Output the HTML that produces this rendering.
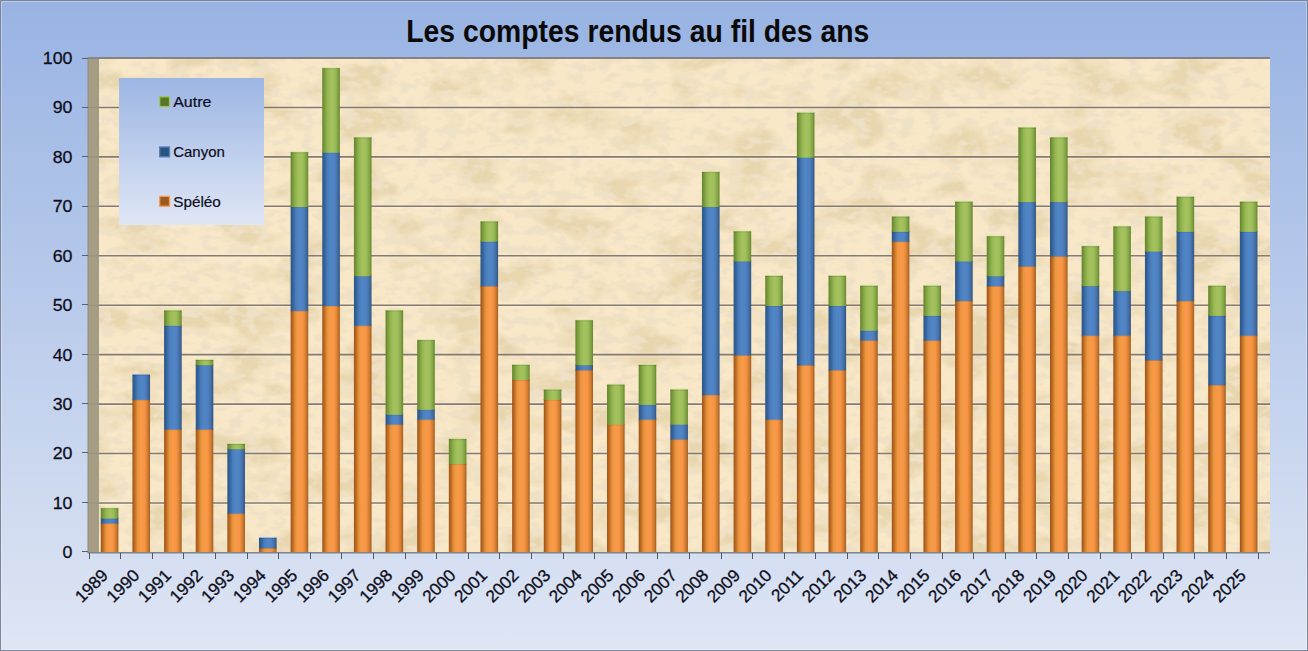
<!DOCTYPE html>
<html><head><meta charset="utf-8"><title>Les comptes rendus au fil des ans</title>
<style>
html,body{margin:0;padding:0;width:1308px;height:651px;overflow:hidden;background:#fff}
svg{display:block}
text{font-family:"Liberation Sans",sans-serif}
</style></head><body>
<svg width="1308" height="651" viewBox="0 0 1308 651">
<defs>
<linearGradient id="bg" x1="0" y1="0" x2="0" y2="1">
<stop offset="0" stop-color="#98b3e3"/><stop offset="1" stop-color="#dfe6f4"/>
</linearGradient>
<linearGradient id="lg" x1="0" y1="0" x2="0" y2="1">
<stop offset="0" stop-color="#9cb6e4"/><stop offset="1" stop-color="#dfe6f5"/>
</linearGradient>
<linearGradient id="gO" x1="0" y1="0" x2="1" y2="0">
<stop offset="0" stop-color="#9a521c"/><stop offset="0.1" stop-color="#b8651f"/><stop offset="0.3" stop-color="#e9953e"/>
<stop offset="0.5" stop-color="#fa9a48"/><stop offset="0.7" stop-color="#f59545"/><stop offset="0.88" stop-color="#d07a2e"/><stop offset="1" stop-color="#a05c22"/>
</linearGradient>
<linearGradient id="gB" x1="0" y1="0" x2="1" y2="0">
<stop offset="0" stop-color="#2a5585"/><stop offset="0.12" stop-color="#32629a"/><stop offset="0.3" stop-color="#4b7cbc"/>
<stop offset="0.5" stop-color="#4f88c4"/><stop offset="0.7" stop-color="#5280c6"/><stop offset="0.88" stop-color="#40709f"/><stop offset="1" stop-color="#324f88"/>
</linearGradient>
<linearGradient id="gG" x1="0" y1="0" x2="1" y2="0">
<stop offset="0" stop-color="#62802c"/><stop offset="0.12" stop-color="#789a3a"/><stop offset="0.3" stop-color="#94b752"/>
<stop offset="0.5" stop-color="#a6c25e"/><stop offset="0.7" stop-color="#9fbf5c"/><stop offset="0.88" stop-color="#82a545"/><stop offset="1" stop-color="#68852c"/>
</linearGradient>
<filter id="p1" x="0" y="0" width="100%" height="100%">
<feTurbulence type="fractalNoise" baseFrequency="0.018 0.03" numOctaves="5" seed="3"/>
<feColorMatrix type="matrix" values="0 0 0 0 0.81  0 0 0 0 0.67  0 0 0 0 0.43  4.6 0 0 0 -2.2"/>
</filter>
<filter id="p2" x="0" y="0" width="100%" height="100%">
<feTurbulence type="fractalNoise" baseFrequency="0.07 0.11" numOctaves="3" seed="11"/>
<feColorMatrix type="matrix" values="0 0 0 0 0.86  0 0 0 0 0.75  0 0 0 0 0.56  4.6 0 0 0 -2.2"/>
</filter>
</defs>
<rect x="0.5" y="0.5" width="1307" height="650" fill="url(#bg)" stroke="#7d8696" stroke-width="1"/>
<rect x="1.5" y="1.5" width="1305" height="648" fill="none" stroke="#ffffff" stroke-opacity="0.3" stroke-width="1"/>

<rect x="99" y="58" width="1171" height="494.5" fill="#f8e8c8"/>
<rect x="99" y="58" width="1171" height="494.5" filter="url(#p1)"/>
<rect x="99" y="58" width="1171" height="494.5" filter="url(#p2)"/>
<rect x="87.6" y="58" width="11.2" height="494.5" fill="#a69e84"/>
<rect x="87.6" y="58" width="1.2" height="494.5" fill="#8f8b82" opacity="0.7"/>
<rect x="97.8" y="58" width="1.0" height="494.5" fill="#8f8670" opacity="0.35"/>
<line x1="98.8" y1="504.46" x2="1270" y2="504.46" stroke="#fff6dc" stroke-width="1" opacity="0.45"/>
<line x1="98.8" y1="501.46" x2="1270" y2="501.46" stroke="#fff6dc" stroke-width="1" opacity="0.3"/>
<line x1="98.8" y1="502.96" x2="1270" y2="502.96" stroke="#857b74" stroke-width="1.6"/>
<line x1="87.6" y1="502.96" x2="98.8" y2="502.96" stroke="#857d76" stroke-width="1.2" opacity="0.35"/>
<line x1="98.8" y1="455.02" x2="1270" y2="455.02" stroke="#fff6dc" stroke-width="1" opacity="0.45"/>
<line x1="98.8" y1="452.02" x2="1270" y2="452.02" stroke="#fff6dc" stroke-width="1" opacity="0.3"/>
<line x1="98.8" y1="453.52" x2="1270" y2="453.52" stroke="#857b74" stroke-width="1.6"/>
<line x1="87.6" y1="453.52" x2="98.8" y2="453.52" stroke="#857d76" stroke-width="1.2" opacity="0.35"/>
<line x1="98.8" y1="405.58" x2="1270" y2="405.58" stroke="#fff6dc" stroke-width="1" opacity="0.45"/>
<line x1="98.8" y1="402.58" x2="1270" y2="402.58" stroke="#fff6dc" stroke-width="1" opacity="0.3"/>
<line x1="98.8" y1="404.08" x2="1270" y2="404.08" stroke="#857b74" stroke-width="1.6"/>
<line x1="87.6" y1="404.08" x2="98.8" y2="404.08" stroke="#857d76" stroke-width="1.2" opacity="0.35"/>
<line x1="98.8" y1="356.14" x2="1270" y2="356.14" stroke="#fff6dc" stroke-width="1" opacity="0.45"/>
<line x1="98.8" y1="353.14" x2="1270" y2="353.14" stroke="#fff6dc" stroke-width="1" opacity="0.3"/>
<line x1="98.8" y1="354.64" x2="1270" y2="354.64" stroke="#857b74" stroke-width="1.6"/>
<line x1="87.6" y1="354.64" x2="98.8" y2="354.64" stroke="#857d76" stroke-width="1.2" opacity="0.35"/>
<line x1="98.8" y1="306.70" x2="1270" y2="306.70" stroke="#fff6dc" stroke-width="1" opacity="0.45"/>
<line x1="98.8" y1="303.70" x2="1270" y2="303.70" stroke="#fff6dc" stroke-width="1" opacity="0.3"/>
<line x1="98.8" y1="305.20" x2="1270" y2="305.20" stroke="#857b74" stroke-width="1.6"/>
<line x1="87.6" y1="305.20" x2="98.8" y2="305.20" stroke="#857d76" stroke-width="1.2" opacity="0.35"/>
<line x1="98.8" y1="257.26" x2="1270" y2="257.26" stroke="#fff6dc" stroke-width="1" opacity="0.45"/>
<line x1="98.8" y1="254.26" x2="1270" y2="254.26" stroke="#fff6dc" stroke-width="1" opacity="0.3"/>
<line x1="98.8" y1="255.76" x2="1270" y2="255.76" stroke="#857b74" stroke-width="1.6"/>
<line x1="87.6" y1="255.76" x2="98.8" y2="255.76" stroke="#857d76" stroke-width="1.2" opacity="0.35"/>
<line x1="98.8" y1="207.82" x2="1270" y2="207.82" stroke="#fff6dc" stroke-width="1" opacity="0.45"/>
<line x1="98.8" y1="204.82" x2="1270" y2="204.82" stroke="#fff6dc" stroke-width="1" opacity="0.3"/>
<line x1="98.8" y1="206.32" x2="1270" y2="206.32" stroke="#857b74" stroke-width="1.6"/>
<line x1="87.6" y1="206.32" x2="98.8" y2="206.32" stroke="#857d76" stroke-width="1.2" opacity="0.35"/>
<line x1="98.8" y1="158.38" x2="1270" y2="158.38" stroke="#fff6dc" stroke-width="1" opacity="0.45"/>
<line x1="98.8" y1="155.38" x2="1270" y2="155.38" stroke="#fff6dc" stroke-width="1" opacity="0.3"/>
<line x1="98.8" y1="156.88" x2="1270" y2="156.88" stroke="#857b74" stroke-width="1.6"/>
<line x1="87.6" y1="156.88" x2="98.8" y2="156.88" stroke="#857d76" stroke-width="1.2" opacity="0.35"/>
<line x1="98.8" y1="108.94" x2="1270" y2="108.94" stroke="#fff6dc" stroke-width="1" opacity="0.45"/>
<line x1="98.8" y1="105.94" x2="1270" y2="105.94" stroke="#fff6dc" stroke-width="1" opacity="0.3"/>
<line x1="98.8" y1="107.44" x2="1270" y2="107.44" stroke="#857b74" stroke-width="1.6"/>
<line x1="87.6" y1="107.44" x2="98.8" y2="107.44" stroke="#857d76" stroke-width="1.2" opacity="0.35"/>
<line x1="98.8" y1="58.00" x2="1270" y2="58.00" stroke="#857b74" stroke-width="1.6"/>
<line x1="87.6" y1="58.00" x2="98.8" y2="58.00" stroke="#857d76" stroke-width="1.2" opacity="0.35"/>
<line x1="87.6" y1="58.00" x2="1270" y2="58.00" stroke="#7f7f82" stroke-width="1.6"/>
<line x1="82" y1="551.5" x2="88" y2="551.5" stroke="#55607a" stroke-width="1"/>
<text x="72.5" y="558.30" font-size="16.6" text-anchor="end" fill="#0d0d1a" stroke="#0d0d1a" stroke-width="0.25" transform="translate(72.5 0) scale(1.07 1) translate(-72.5 0)">0</text>
<line x1="82" y1="502.5" x2="88" y2="502.5" stroke="#55607a" stroke-width="1"/>
<text x="72.5" y="508.86" font-size="16.6" text-anchor="end" fill="#0d0d1a" stroke="#0d0d1a" stroke-width="0.25" transform="translate(72.5 0) scale(1.07 1) translate(-72.5 0)">10</text>
<line x1="82" y1="452.5" x2="88" y2="452.5" stroke="#55607a" stroke-width="1"/>
<text x="72.5" y="459.42" font-size="16.6" text-anchor="end" fill="#0d0d1a" stroke="#0d0d1a" stroke-width="0.25" transform="translate(72.5 0) scale(1.07 1) translate(-72.5 0)">20</text>
<line x1="82" y1="403.5" x2="88" y2="403.5" stroke="#55607a" stroke-width="1"/>
<text x="72.5" y="409.98" font-size="16.6" text-anchor="end" fill="#0d0d1a" stroke="#0d0d1a" stroke-width="0.25" transform="translate(72.5 0) scale(1.07 1) translate(-72.5 0)">30</text>
<line x1="82" y1="354.5" x2="88" y2="354.5" stroke="#55607a" stroke-width="1"/>
<text x="72.5" y="360.54" font-size="16.6" text-anchor="end" fill="#0d0d1a" stroke="#0d0d1a" stroke-width="0.25" transform="translate(72.5 0) scale(1.07 1) translate(-72.5 0)">40</text>
<line x1="82" y1="304.5" x2="88" y2="304.5" stroke="#55607a" stroke-width="1"/>
<text x="72.5" y="311.10" font-size="16.6" text-anchor="end" fill="#0d0d1a" stroke="#0d0d1a" stroke-width="0.25" transform="translate(72.5 0) scale(1.07 1) translate(-72.5 0)">50</text>
<line x1="82" y1="255.5" x2="88" y2="255.5" stroke="#55607a" stroke-width="1"/>
<text x="72.5" y="261.66" font-size="16.6" text-anchor="end" fill="#0d0d1a" stroke="#0d0d1a" stroke-width="0.25" transform="translate(72.5 0) scale(1.07 1) translate(-72.5 0)">60</text>
<line x1="82" y1="206.5" x2="88" y2="206.5" stroke="#55607a" stroke-width="1"/>
<text x="72.5" y="212.22" font-size="16.6" text-anchor="end" fill="#0d0d1a" stroke="#0d0d1a" stroke-width="0.25" transform="translate(72.5 0) scale(1.07 1) translate(-72.5 0)">70</text>
<line x1="82" y1="156.5" x2="88" y2="156.5" stroke="#55607a" stroke-width="1"/>
<text x="72.5" y="162.78" font-size="16.6" text-anchor="end" fill="#0d0d1a" stroke="#0d0d1a" stroke-width="0.25" transform="translate(72.5 0) scale(1.07 1) translate(-72.5 0)">80</text>
<line x1="82" y1="107.5" x2="88" y2="107.5" stroke="#55607a" stroke-width="1"/>
<text x="72.5" y="113.34" font-size="16.6" text-anchor="end" fill="#0d0d1a" stroke="#0d0d1a" stroke-width="0.25" transform="translate(72.5 0) scale(1.07 1) translate(-72.5 0)">90</text>
<line x1="82" y1="58.5" x2="88" y2="58.5" stroke="#55607a" stroke-width="1"/>
<text x="72.5" y="63.90" font-size="16.6" text-anchor="end" fill="#0d0d1a" stroke="#0d0d1a" stroke-width="0.25" transform="translate(72.5 0) scale(1.07 1) translate(-72.5 0)">100</text>
<rect x="100.80" y="522.74" width="17.6" height="29.66" fill="url(#gO)"/>
<rect x="100.80" y="522.14" width="17.6" height="1.0" fill="#ffc58a" opacity="0.65"/>
<rect x="100.80" y="523.14" width="17.6" height="1.0" fill="#000" opacity="0.13"/>
<rect x="100.80" y="517.79" width="17.6" height="5.74" fill="url(#gB)"/>
<rect x="100.80" y="517.19" width="17.6" height="1.0" fill="#9cc0e8" opacity="0.65"/>
<rect x="100.80" y="518.19" width="17.6" height="1.0" fill="#000" opacity="0.13"/>
<rect x="100.80" y="507.90" width="17.6" height="10.69" fill="url(#gG)"/>
<rect x="100.80" y="507.30" width="17.6" height="1.0" fill="#d2eaa0" opacity="0.65"/>
<rect x="100.80" y="508.30" width="17.6" height="1.0" fill="#000" opacity="0.13"/>
<rect x="132.44" y="399.14" width="17.6" height="153.26" fill="url(#gO)"/>
<rect x="132.44" y="398.54" width="17.6" height="1.0" fill="#ffc58a" opacity="0.65"/>
<rect x="132.44" y="399.54" width="17.6" height="1.0" fill="#000" opacity="0.13"/>
<rect x="132.44" y="374.42" width="17.6" height="25.52" fill="url(#gB)"/>
<rect x="132.44" y="373.82" width="17.6" height="1.0" fill="#9cc0e8" opacity="0.65"/>
<rect x="132.44" y="374.82" width="17.6" height="1.0" fill="#000" opacity="0.13"/>
<rect x="164.08" y="428.80" width="17.6" height="123.60" fill="url(#gO)"/>
<rect x="164.08" y="428.20" width="17.6" height="1.0" fill="#ffc58a" opacity="0.65"/>
<rect x="164.08" y="429.20" width="17.6" height="1.0" fill="#000" opacity="0.13"/>
<rect x="164.08" y="324.98" width="17.6" height="104.62" fill="url(#gB)"/>
<rect x="164.08" y="324.38" width="17.6" height="1.0" fill="#9cc0e8" opacity="0.65"/>
<rect x="164.08" y="325.38" width="17.6" height="1.0" fill="#000" opacity="0.13"/>
<rect x="164.08" y="310.14" width="17.6" height="15.63" fill="url(#gG)"/>
<rect x="164.08" y="309.54" width="17.6" height="1.0" fill="#d2eaa0" opacity="0.65"/>
<rect x="164.08" y="310.54" width="17.6" height="1.0" fill="#000" opacity="0.13"/>
<rect x="195.72" y="428.80" width="17.6" height="123.60" fill="url(#gO)"/>
<rect x="195.72" y="428.20" width="17.6" height="1.0" fill="#ffc58a" opacity="0.65"/>
<rect x="195.72" y="429.20" width="17.6" height="1.0" fill="#000" opacity="0.13"/>
<rect x="195.72" y="364.53" width="17.6" height="65.07" fill="url(#gB)"/>
<rect x="195.72" y="363.93" width="17.6" height="1.0" fill="#9cc0e8" opacity="0.65"/>
<rect x="195.72" y="364.93" width="17.6" height="1.0" fill="#000" opacity="0.13"/>
<rect x="195.72" y="359.58" width="17.6" height="5.74" fill="url(#gG)"/>
<rect x="195.72" y="358.98" width="17.6" height="1.0" fill="#d2eaa0" opacity="0.65"/>
<rect x="195.72" y="359.98" width="17.6" height="1.0" fill="#000" opacity="0.13"/>
<rect x="227.36" y="512.85" width="17.6" height="39.55" fill="url(#gO)"/>
<rect x="227.36" y="512.25" width="17.6" height="1.0" fill="#ffc58a" opacity="0.65"/>
<rect x="227.36" y="513.25" width="17.6" height="1.0" fill="#000" opacity="0.13"/>
<rect x="227.36" y="448.58" width="17.6" height="65.07" fill="url(#gB)"/>
<rect x="227.36" y="447.98" width="17.6" height="1.0" fill="#9cc0e8" opacity="0.65"/>
<rect x="227.36" y="448.98" width="17.6" height="1.0" fill="#000" opacity="0.13"/>
<rect x="227.36" y="443.63" width="17.6" height="5.74" fill="url(#gG)"/>
<rect x="227.36" y="443.03" width="17.6" height="1.0" fill="#d2eaa0" opacity="0.65"/>
<rect x="227.36" y="444.03" width="17.6" height="1.0" fill="#000" opacity="0.13"/>
<rect x="259.00" y="547.46" width="17.6" height="4.94" fill="url(#gO)"/>
<rect x="259.00" y="546.86" width="17.6" height="1.0" fill="#ffc58a" opacity="0.65"/>
<rect x="259.00" y="547.86" width="17.6" height="1.0" fill="#000" opacity="0.13"/>
<rect x="259.00" y="537.57" width="17.6" height="10.69" fill="url(#gB)"/>
<rect x="259.00" y="536.97" width="17.6" height="1.0" fill="#9cc0e8" opacity="0.65"/>
<rect x="259.00" y="537.97" width="17.6" height="1.0" fill="#000" opacity="0.13"/>
<rect x="290.64" y="310.14" width="17.6" height="242.26" fill="url(#gO)"/>
<rect x="290.64" y="309.54" width="17.6" height="1.0" fill="#ffc58a" opacity="0.65"/>
<rect x="290.64" y="310.54" width="17.6" height="1.0" fill="#000" opacity="0.13"/>
<rect x="290.64" y="206.32" width="17.6" height="104.62" fill="url(#gB)"/>
<rect x="290.64" y="205.72" width="17.6" height="1.0" fill="#9cc0e8" opacity="0.65"/>
<rect x="290.64" y="206.72" width="17.6" height="1.0" fill="#000" opacity="0.13"/>
<rect x="290.64" y="151.94" width="17.6" height="55.18" fill="url(#gG)"/>
<rect x="290.64" y="151.34" width="17.6" height="1.0" fill="#d2eaa0" opacity="0.65"/>
<rect x="290.64" y="152.34" width="17.6" height="1.0" fill="#000" opacity="0.13"/>
<rect x="322.28" y="305.20" width="17.6" height="247.20" fill="url(#gO)"/>
<rect x="322.28" y="304.60" width="17.6" height="1.0" fill="#ffc58a" opacity="0.65"/>
<rect x="322.28" y="305.60" width="17.6" height="1.0" fill="#000" opacity="0.13"/>
<rect x="322.28" y="151.94" width="17.6" height="154.06" fill="url(#gB)"/>
<rect x="322.28" y="151.34" width="17.6" height="1.0" fill="#9cc0e8" opacity="0.65"/>
<rect x="322.28" y="152.34" width="17.6" height="1.0" fill="#000" opacity="0.13"/>
<rect x="322.28" y="67.89" width="17.6" height="84.85" fill="url(#gG)"/>
<rect x="322.28" y="67.29" width="17.6" height="1.0" fill="#d2eaa0" opacity="0.65"/>
<rect x="322.28" y="68.29" width="17.6" height="1.0" fill="#000" opacity="0.13"/>
<rect x="353.92" y="324.98" width="17.6" height="227.42" fill="url(#gO)"/>
<rect x="353.92" y="324.38" width="17.6" height="1.0" fill="#ffc58a" opacity="0.65"/>
<rect x="353.92" y="325.38" width="17.6" height="1.0" fill="#000" opacity="0.13"/>
<rect x="353.92" y="275.54" width="17.6" height="50.24" fill="url(#gB)"/>
<rect x="353.92" y="274.94" width="17.6" height="1.0" fill="#9cc0e8" opacity="0.65"/>
<rect x="353.92" y="275.94" width="17.6" height="1.0" fill="#000" opacity="0.13"/>
<rect x="353.92" y="137.10" width="17.6" height="139.23" fill="url(#gG)"/>
<rect x="353.92" y="136.50" width="17.6" height="1.0" fill="#d2eaa0" opacity="0.65"/>
<rect x="353.92" y="137.50" width="17.6" height="1.0" fill="#000" opacity="0.13"/>
<rect x="385.56" y="423.86" width="17.6" height="128.54" fill="url(#gO)"/>
<rect x="385.56" y="423.26" width="17.6" height="1.0" fill="#ffc58a" opacity="0.65"/>
<rect x="385.56" y="424.26" width="17.6" height="1.0" fill="#000" opacity="0.13"/>
<rect x="385.56" y="413.97" width="17.6" height="10.69" fill="url(#gB)"/>
<rect x="385.56" y="413.37" width="17.6" height="1.0" fill="#9cc0e8" opacity="0.65"/>
<rect x="385.56" y="414.37" width="17.6" height="1.0" fill="#000" opacity="0.13"/>
<rect x="385.56" y="310.14" width="17.6" height="104.62" fill="url(#gG)"/>
<rect x="385.56" y="309.54" width="17.6" height="1.0" fill="#d2eaa0" opacity="0.65"/>
<rect x="385.56" y="310.54" width="17.6" height="1.0" fill="#000" opacity="0.13"/>
<rect x="417.20" y="418.91" width="17.6" height="133.49" fill="url(#gO)"/>
<rect x="417.20" y="418.31" width="17.6" height="1.0" fill="#ffc58a" opacity="0.65"/>
<rect x="417.20" y="419.31" width="17.6" height="1.0" fill="#000" opacity="0.13"/>
<rect x="417.20" y="409.02" width="17.6" height="10.69" fill="url(#gB)"/>
<rect x="417.20" y="408.42" width="17.6" height="1.0" fill="#9cc0e8" opacity="0.65"/>
<rect x="417.20" y="409.42" width="17.6" height="1.0" fill="#000" opacity="0.13"/>
<rect x="417.20" y="339.81" width="17.6" height="70.02" fill="url(#gG)"/>
<rect x="417.20" y="339.21" width="17.6" height="1.0" fill="#d2eaa0" opacity="0.65"/>
<rect x="417.20" y="340.21" width="17.6" height="1.0" fill="#000" opacity="0.13"/>
<rect x="448.84" y="463.41" width="17.6" height="88.99" fill="url(#gO)"/>
<rect x="448.84" y="462.81" width="17.6" height="1.0" fill="#ffc58a" opacity="0.65"/>
<rect x="448.84" y="463.81" width="17.6" height="1.0" fill="#000" opacity="0.13"/>
<rect x="448.84" y="438.69" width="17.6" height="25.52" fill="url(#gG)"/>
<rect x="448.84" y="438.09" width="17.6" height="1.0" fill="#d2eaa0" opacity="0.65"/>
<rect x="448.84" y="439.09" width="17.6" height="1.0" fill="#000" opacity="0.13"/>
<rect x="480.48" y="285.42" width="17.6" height="266.98" fill="url(#gO)"/>
<rect x="480.48" y="284.82" width="17.6" height="1.0" fill="#ffc58a" opacity="0.65"/>
<rect x="480.48" y="285.82" width="17.6" height="1.0" fill="#000" opacity="0.13"/>
<rect x="480.48" y="240.93" width="17.6" height="45.30" fill="url(#gB)"/>
<rect x="480.48" y="240.33" width="17.6" height="1.0" fill="#9cc0e8" opacity="0.65"/>
<rect x="480.48" y="241.33" width="17.6" height="1.0" fill="#000" opacity="0.13"/>
<rect x="480.48" y="221.15" width="17.6" height="20.58" fill="url(#gG)"/>
<rect x="480.48" y="220.55" width="17.6" height="1.0" fill="#d2eaa0" opacity="0.65"/>
<rect x="480.48" y="221.55" width="17.6" height="1.0" fill="#000" opacity="0.13"/>
<rect x="512.12" y="379.36" width="17.6" height="173.04" fill="url(#gO)"/>
<rect x="512.12" y="378.76" width="17.6" height="1.0" fill="#ffc58a" opacity="0.65"/>
<rect x="512.12" y="379.76" width="17.6" height="1.0" fill="#000" opacity="0.13"/>
<rect x="512.12" y="364.53" width="17.6" height="15.63" fill="url(#gG)"/>
<rect x="512.12" y="363.93" width="17.6" height="1.0" fill="#d2eaa0" opacity="0.65"/>
<rect x="512.12" y="364.93" width="17.6" height="1.0" fill="#000" opacity="0.13"/>
<rect x="543.76" y="399.14" width="17.6" height="153.26" fill="url(#gO)"/>
<rect x="543.76" y="398.54" width="17.6" height="1.0" fill="#ffc58a" opacity="0.65"/>
<rect x="543.76" y="399.54" width="17.6" height="1.0" fill="#000" opacity="0.13"/>
<rect x="543.76" y="389.25" width="17.6" height="10.69" fill="url(#gG)"/>
<rect x="543.76" y="388.65" width="17.6" height="1.0" fill="#d2eaa0" opacity="0.65"/>
<rect x="543.76" y="389.65" width="17.6" height="1.0" fill="#000" opacity="0.13"/>
<rect x="575.40" y="369.47" width="17.6" height="182.93" fill="url(#gO)"/>
<rect x="575.40" y="368.87" width="17.6" height="1.0" fill="#ffc58a" opacity="0.65"/>
<rect x="575.40" y="369.87" width="17.6" height="1.0" fill="#000" opacity="0.13"/>
<rect x="575.40" y="364.53" width="17.6" height="5.74" fill="url(#gB)"/>
<rect x="575.40" y="363.93" width="17.6" height="1.0" fill="#9cc0e8" opacity="0.65"/>
<rect x="575.40" y="364.93" width="17.6" height="1.0" fill="#000" opacity="0.13"/>
<rect x="575.40" y="320.03" width="17.6" height="45.30" fill="url(#gG)"/>
<rect x="575.40" y="319.43" width="17.6" height="1.0" fill="#d2eaa0" opacity="0.65"/>
<rect x="575.40" y="320.43" width="17.6" height="1.0" fill="#000" opacity="0.13"/>
<rect x="607.04" y="423.86" width="17.6" height="128.54" fill="url(#gO)"/>
<rect x="607.04" y="423.26" width="17.6" height="1.0" fill="#ffc58a" opacity="0.65"/>
<rect x="607.04" y="424.26" width="17.6" height="1.0" fill="#000" opacity="0.13"/>
<rect x="607.04" y="384.30" width="17.6" height="40.35" fill="url(#gG)"/>
<rect x="607.04" y="383.70" width="17.6" height="1.0" fill="#d2eaa0" opacity="0.65"/>
<rect x="607.04" y="384.70" width="17.6" height="1.0" fill="#000" opacity="0.13"/>
<rect x="638.68" y="418.91" width="17.6" height="133.49" fill="url(#gO)"/>
<rect x="638.68" y="418.31" width="17.6" height="1.0" fill="#ffc58a" opacity="0.65"/>
<rect x="638.68" y="419.31" width="17.6" height="1.0" fill="#000" opacity="0.13"/>
<rect x="638.68" y="404.08" width="17.6" height="15.63" fill="url(#gB)"/>
<rect x="638.68" y="403.48" width="17.6" height="1.0" fill="#9cc0e8" opacity="0.65"/>
<rect x="638.68" y="404.48" width="17.6" height="1.0" fill="#000" opacity="0.13"/>
<rect x="638.68" y="364.53" width="17.6" height="40.35" fill="url(#gG)"/>
<rect x="638.68" y="363.93" width="17.6" height="1.0" fill="#d2eaa0" opacity="0.65"/>
<rect x="638.68" y="364.93" width="17.6" height="1.0" fill="#000" opacity="0.13"/>
<rect x="670.32" y="438.69" width="17.6" height="113.71" fill="url(#gO)"/>
<rect x="670.32" y="438.09" width="17.6" height="1.0" fill="#ffc58a" opacity="0.65"/>
<rect x="670.32" y="439.09" width="17.6" height="1.0" fill="#000" opacity="0.13"/>
<rect x="670.32" y="423.86" width="17.6" height="15.63" fill="url(#gB)"/>
<rect x="670.32" y="423.26" width="17.6" height="1.0" fill="#9cc0e8" opacity="0.65"/>
<rect x="670.32" y="424.26" width="17.6" height="1.0" fill="#000" opacity="0.13"/>
<rect x="670.32" y="389.25" width="17.6" height="35.41" fill="url(#gG)"/>
<rect x="670.32" y="388.65" width="17.6" height="1.0" fill="#d2eaa0" opacity="0.65"/>
<rect x="670.32" y="389.65" width="17.6" height="1.0" fill="#000" opacity="0.13"/>
<rect x="701.96" y="394.19" width="17.6" height="158.21" fill="url(#gO)"/>
<rect x="701.96" y="393.59" width="17.6" height="1.0" fill="#ffc58a" opacity="0.65"/>
<rect x="701.96" y="394.59" width="17.6" height="1.0" fill="#000" opacity="0.13"/>
<rect x="701.96" y="206.32" width="17.6" height="188.67" fill="url(#gB)"/>
<rect x="701.96" y="205.72" width="17.6" height="1.0" fill="#9cc0e8" opacity="0.65"/>
<rect x="701.96" y="206.72" width="17.6" height="1.0" fill="#000" opacity="0.13"/>
<rect x="701.96" y="171.71" width="17.6" height="35.41" fill="url(#gG)"/>
<rect x="701.96" y="171.11" width="17.6" height="1.0" fill="#d2eaa0" opacity="0.65"/>
<rect x="701.96" y="172.11" width="17.6" height="1.0" fill="#000" opacity="0.13"/>
<rect x="733.60" y="354.64" width="17.6" height="197.76" fill="url(#gO)"/>
<rect x="733.60" y="354.04" width="17.6" height="1.0" fill="#ffc58a" opacity="0.65"/>
<rect x="733.60" y="355.04" width="17.6" height="1.0" fill="#000" opacity="0.13"/>
<rect x="733.60" y="260.70" width="17.6" height="94.74" fill="url(#gB)"/>
<rect x="733.60" y="260.10" width="17.6" height="1.0" fill="#9cc0e8" opacity="0.65"/>
<rect x="733.60" y="261.10" width="17.6" height="1.0" fill="#000" opacity="0.13"/>
<rect x="733.60" y="231.04" width="17.6" height="30.46" fill="url(#gG)"/>
<rect x="733.60" y="230.44" width="17.6" height="1.0" fill="#d2eaa0" opacity="0.65"/>
<rect x="733.60" y="231.44" width="17.6" height="1.0" fill="#000" opacity="0.13"/>
<rect x="765.24" y="418.91" width="17.6" height="133.49" fill="url(#gO)"/>
<rect x="765.24" y="418.31" width="17.6" height="1.0" fill="#ffc58a" opacity="0.65"/>
<rect x="765.24" y="419.31" width="17.6" height="1.0" fill="#000" opacity="0.13"/>
<rect x="765.24" y="305.20" width="17.6" height="114.51" fill="url(#gB)"/>
<rect x="765.24" y="304.60" width="17.6" height="1.0" fill="#9cc0e8" opacity="0.65"/>
<rect x="765.24" y="305.60" width="17.6" height="1.0" fill="#000" opacity="0.13"/>
<rect x="765.24" y="275.54" width="17.6" height="30.46" fill="url(#gG)"/>
<rect x="765.24" y="274.94" width="17.6" height="1.0" fill="#d2eaa0" opacity="0.65"/>
<rect x="765.24" y="275.94" width="17.6" height="1.0" fill="#000" opacity="0.13"/>
<rect x="796.88" y="364.53" width="17.6" height="187.87" fill="url(#gO)"/>
<rect x="796.88" y="363.93" width="17.6" height="1.0" fill="#ffc58a" opacity="0.65"/>
<rect x="796.88" y="364.93" width="17.6" height="1.0" fill="#000" opacity="0.13"/>
<rect x="796.88" y="156.88" width="17.6" height="208.45" fill="url(#gB)"/>
<rect x="796.88" y="156.28" width="17.6" height="1.0" fill="#9cc0e8" opacity="0.65"/>
<rect x="796.88" y="157.28" width="17.6" height="1.0" fill="#000" opacity="0.13"/>
<rect x="796.88" y="112.38" width="17.6" height="45.30" fill="url(#gG)"/>
<rect x="796.88" y="111.78" width="17.6" height="1.0" fill="#d2eaa0" opacity="0.65"/>
<rect x="796.88" y="112.78" width="17.6" height="1.0" fill="#000" opacity="0.13"/>
<rect x="828.52" y="369.47" width="17.6" height="182.93" fill="url(#gO)"/>
<rect x="828.52" y="368.87" width="17.6" height="1.0" fill="#ffc58a" opacity="0.65"/>
<rect x="828.52" y="369.87" width="17.6" height="1.0" fill="#000" opacity="0.13"/>
<rect x="828.52" y="305.20" width="17.6" height="65.07" fill="url(#gB)"/>
<rect x="828.52" y="304.60" width="17.6" height="1.0" fill="#9cc0e8" opacity="0.65"/>
<rect x="828.52" y="305.60" width="17.6" height="1.0" fill="#000" opacity="0.13"/>
<rect x="828.52" y="275.54" width="17.6" height="30.46" fill="url(#gG)"/>
<rect x="828.52" y="274.94" width="17.6" height="1.0" fill="#d2eaa0" opacity="0.65"/>
<rect x="828.52" y="275.94" width="17.6" height="1.0" fill="#000" opacity="0.13"/>
<rect x="860.16" y="339.81" width="17.6" height="212.59" fill="url(#gO)"/>
<rect x="860.16" y="339.21" width="17.6" height="1.0" fill="#ffc58a" opacity="0.65"/>
<rect x="860.16" y="340.21" width="17.6" height="1.0" fill="#000" opacity="0.13"/>
<rect x="860.16" y="329.92" width="17.6" height="10.69" fill="url(#gB)"/>
<rect x="860.16" y="329.32" width="17.6" height="1.0" fill="#9cc0e8" opacity="0.65"/>
<rect x="860.16" y="330.32" width="17.6" height="1.0" fill="#000" opacity="0.13"/>
<rect x="860.16" y="285.42" width="17.6" height="45.30" fill="url(#gG)"/>
<rect x="860.16" y="284.82" width="17.6" height="1.0" fill="#d2eaa0" opacity="0.65"/>
<rect x="860.16" y="285.82" width="17.6" height="1.0" fill="#000" opacity="0.13"/>
<rect x="891.80" y="240.93" width="17.6" height="311.47" fill="url(#gO)"/>
<rect x="891.80" y="240.33" width="17.6" height="1.0" fill="#ffc58a" opacity="0.65"/>
<rect x="891.80" y="241.33" width="17.6" height="1.0" fill="#000" opacity="0.13"/>
<rect x="891.80" y="231.04" width="17.6" height="10.69" fill="url(#gB)"/>
<rect x="891.80" y="230.44" width="17.6" height="1.0" fill="#9cc0e8" opacity="0.65"/>
<rect x="891.80" y="231.44" width="17.6" height="1.0" fill="#000" opacity="0.13"/>
<rect x="891.80" y="216.21" width="17.6" height="15.63" fill="url(#gG)"/>
<rect x="891.80" y="215.61" width="17.6" height="1.0" fill="#d2eaa0" opacity="0.65"/>
<rect x="891.80" y="216.61" width="17.6" height="1.0" fill="#000" opacity="0.13"/>
<rect x="923.44" y="339.81" width="17.6" height="212.59" fill="url(#gO)"/>
<rect x="923.44" y="339.21" width="17.6" height="1.0" fill="#ffc58a" opacity="0.65"/>
<rect x="923.44" y="340.21" width="17.6" height="1.0" fill="#000" opacity="0.13"/>
<rect x="923.44" y="315.09" width="17.6" height="25.52" fill="url(#gB)"/>
<rect x="923.44" y="314.49" width="17.6" height="1.0" fill="#9cc0e8" opacity="0.65"/>
<rect x="923.44" y="315.49" width="17.6" height="1.0" fill="#000" opacity="0.13"/>
<rect x="923.44" y="285.42" width="17.6" height="30.46" fill="url(#gG)"/>
<rect x="923.44" y="284.82" width="17.6" height="1.0" fill="#d2eaa0" opacity="0.65"/>
<rect x="923.44" y="285.82" width="17.6" height="1.0" fill="#000" opacity="0.13"/>
<rect x="955.08" y="300.26" width="17.6" height="252.14" fill="url(#gO)"/>
<rect x="955.08" y="299.66" width="17.6" height="1.0" fill="#ffc58a" opacity="0.65"/>
<rect x="955.08" y="300.66" width="17.6" height="1.0" fill="#000" opacity="0.13"/>
<rect x="955.08" y="260.70" width="17.6" height="40.35" fill="url(#gB)"/>
<rect x="955.08" y="260.10" width="17.6" height="1.0" fill="#9cc0e8" opacity="0.65"/>
<rect x="955.08" y="261.10" width="17.6" height="1.0" fill="#000" opacity="0.13"/>
<rect x="955.08" y="201.38" width="17.6" height="60.13" fill="url(#gG)"/>
<rect x="955.08" y="200.78" width="17.6" height="1.0" fill="#d2eaa0" opacity="0.65"/>
<rect x="955.08" y="201.78" width="17.6" height="1.0" fill="#000" opacity="0.13"/>
<rect x="986.72" y="285.42" width="17.6" height="266.98" fill="url(#gO)"/>
<rect x="986.72" y="284.82" width="17.6" height="1.0" fill="#ffc58a" opacity="0.65"/>
<rect x="986.72" y="285.82" width="17.6" height="1.0" fill="#000" opacity="0.13"/>
<rect x="986.72" y="275.54" width="17.6" height="10.69" fill="url(#gB)"/>
<rect x="986.72" y="274.94" width="17.6" height="1.0" fill="#9cc0e8" opacity="0.65"/>
<rect x="986.72" y="275.94" width="17.6" height="1.0" fill="#000" opacity="0.13"/>
<rect x="986.72" y="235.98" width="17.6" height="40.35" fill="url(#gG)"/>
<rect x="986.72" y="235.38" width="17.6" height="1.0" fill="#d2eaa0" opacity="0.65"/>
<rect x="986.72" y="236.38" width="17.6" height="1.0" fill="#000" opacity="0.13"/>
<rect x="1018.36" y="265.65" width="17.6" height="286.75" fill="url(#gO)"/>
<rect x="1018.36" y="265.05" width="17.6" height="1.0" fill="#ffc58a" opacity="0.65"/>
<rect x="1018.36" y="266.05" width="17.6" height="1.0" fill="#000" opacity="0.13"/>
<rect x="1018.36" y="201.38" width="17.6" height="65.07" fill="url(#gB)"/>
<rect x="1018.36" y="200.78" width="17.6" height="1.0" fill="#9cc0e8" opacity="0.65"/>
<rect x="1018.36" y="201.78" width="17.6" height="1.0" fill="#000" opacity="0.13"/>
<rect x="1018.36" y="127.22" width="17.6" height="74.96" fill="url(#gG)"/>
<rect x="1018.36" y="126.62" width="17.6" height="1.0" fill="#d2eaa0" opacity="0.65"/>
<rect x="1018.36" y="127.62" width="17.6" height="1.0" fill="#000" opacity="0.13"/>
<rect x="1050.00" y="255.76" width="17.6" height="296.64" fill="url(#gO)"/>
<rect x="1050.00" y="255.16" width="17.6" height="1.0" fill="#ffc58a" opacity="0.65"/>
<rect x="1050.00" y="256.16" width="17.6" height="1.0" fill="#000" opacity="0.13"/>
<rect x="1050.00" y="201.38" width="17.6" height="55.18" fill="url(#gB)"/>
<rect x="1050.00" y="200.78" width="17.6" height="1.0" fill="#9cc0e8" opacity="0.65"/>
<rect x="1050.00" y="201.78" width="17.6" height="1.0" fill="#000" opacity="0.13"/>
<rect x="1050.00" y="137.10" width="17.6" height="65.07" fill="url(#gG)"/>
<rect x="1050.00" y="136.50" width="17.6" height="1.0" fill="#d2eaa0" opacity="0.65"/>
<rect x="1050.00" y="137.50" width="17.6" height="1.0" fill="#000" opacity="0.13"/>
<rect x="1081.64" y="334.86" width="17.6" height="217.54" fill="url(#gO)"/>
<rect x="1081.64" y="334.26" width="17.6" height="1.0" fill="#ffc58a" opacity="0.65"/>
<rect x="1081.64" y="335.26" width="17.6" height="1.0" fill="#000" opacity="0.13"/>
<rect x="1081.64" y="285.42" width="17.6" height="50.24" fill="url(#gB)"/>
<rect x="1081.64" y="284.82" width="17.6" height="1.0" fill="#9cc0e8" opacity="0.65"/>
<rect x="1081.64" y="285.82" width="17.6" height="1.0" fill="#000" opacity="0.13"/>
<rect x="1081.64" y="245.87" width="17.6" height="40.35" fill="url(#gG)"/>
<rect x="1081.64" y="245.27" width="17.6" height="1.0" fill="#d2eaa0" opacity="0.65"/>
<rect x="1081.64" y="246.27" width="17.6" height="1.0" fill="#000" opacity="0.13"/>
<rect x="1113.28" y="334.86" width="17.6" height="217.54" fill="url(#gO)"/>
<rect x="1113.28" y="334.26" width="17.6" height="1.0" fill="#ffc58a" opacity="0.65"/>
<rect x="1113.28" y="335.26" width="17.6" height="1.0" fill="#000" opacity="0.13"/>
<rect x="1113.28" y="290.37" width="17.6" height="45.30" fill="url(#gB)"/>
<rect x="1113.28" y="289.77" width="17.6" height="1.0" fill="#9cc0e8" opacity="0.65"/>
<rect x="1113.28" y="290.77" width="17.6" height="1.0" fill="#000" opacity="0.13"/>
<rect x="1113.28" y="226.10" width="17.6" height="65.07" fill="url(#gG)"/>
<rect x="1113.28" y="225.50" width="17.6" height="1.0" fill="#d2eaa0" opacity="0.65"/>
<rect x="1113.28" y="226.50" width="17.6" height="1.0" fill="#000" opacity="0.13"/>
<rect x="1144.92" y="359.58" width="17.6" height="192.82" fill="url(#gO)"/>
<rect x="1144.92" y="358.98" width="17.6" height="1.0" fill="#ffc58a" opacity="0.65"/>
<rect x="1144.92" y="359.98" width="17.6" height="1.0" fill="#000" opacity="0.13"/>
<rect x="1144.92" y="250.82" width="17.6" height="109.57" fill="url(#gB)"/>
<rect x="1144.92" y="250.22" width="17.6" height="1.0" fill="#9cc0e8" opacity="0.65"/>
<rect x="1144.92" y="251.22" width="17.6" height="1.0" fill="#000" opacity="0.13"/>
<rect x="1144.92" y="216.21" width="17.6" height="35.41" fill="url(#gG)"/>
<rect x="1144.92" y="215.61" width="17.6" height="1.0" fill="#d2eaa0" opacity="0.65"/>
<rect x="1144.92" y="216.61" width="17.6" height="1.0" fill="#000" opacity="0.13"/>
<rect x="1176.56" y="300.26" width="17.6" height="252.14" fill="url(#gO)"/>
<rect x="1176.56" y="299.66" width="17.6" height="1.0" fill="#ffc58a" opacity="0.65"/>
<rect x="1176.56" y="300.66" width="17.6" height="1.0" fill="#000" opacity="0.13"/>
<rect x="1176.56" y="231.04" width="17.6" height="70.02" fill="url(#gB)"/>
<rect x="1176.56" y="230.44" width="17.6" height="1.0" fill="#9cc0e8" opacity="0.65"/>
<rect x="1176.56" y="231.44" width="17.6" height="1.0" fill="#000" opacity="0.13"/>
<rect x="1176.56" y="196.43" width="17.6" height="35.41" fill="url(#gG)"/>
<rect x="1176.56" y="195.83" width="17.6" height="1.0" fill="#d2eaa0" opacity="0.65"/>
<rect x="1176.56" y="196.83" width="17.6" height="1.0" fill="#000" opacity="0.13"/>
<rect x="1208.20" y="384.30" width="17.6" height="168.10" fill="url(#gO)"/>
<rect x="1208.20" y="383.70" width="17.6" height="1.0" fill="#ffc58a" opacity="0.65"/>
<rect x="1208.20" y="384.70" width="17.6" height="1.0" fill="#000" opacity="0.13"/>
<rect x="1208.20" y="315.09" width="17.6" height="70.02" fill="url(#gB)"/>
<rect x="1208.20" y="314.49" width="17.6" height="1.0" fill="#9cc0e8" opacity="0.65"/>
<rect x="1208.20" y="315.49" width="17.6" height="1.0" fill="#000" opacity="0.13"/>
<rect x="1208.20" y="285.42" width="17.6" height="30.46" fill="url(#gG)"/>
<rect x="1208.20" y="284.82" width="17.6" height="1.0" fill="#d2eaa0" opacity="0.65"/>
<rect x="1208.20" y="285.82" width="17.6" height="1.0" fill="#000" opacity="0.13"/>
<rect x="1239.84" y="334.86" width="17.6" height="217.54" fill="url(#gO)"/>
<rect x="1239.84" y="334.26" width="17.6" height="1.0" fill="#ffc58a" opacity="0.65"/>
<rect x="1239.84" y="335.26" width="17.6" height="1.0" fill="#000" opacity="0.13"/>
<rect x="1239.84" y="231.04" width="17.6" height="104.62" fill="url(#gB)"/>
<rect x="1239.84" y="230.44" width="17.6" height="1.0" fill="#9cc0e8" opacity="0.65"/>
<rect x="1239.84" y="231.44" width="17.6" height="1.0" fill="#000" opacity="0.13"/>
<rect x="1239.84" y="201.38" width="17.6" height="30.46" fill="url(#gG)"/>
<rect x="1239.84" y="200.78" width="17.6" height="1.0" fill="#d2eaa0" opacity="0.65"/>
<rect x="1239.84" y="201.78" width="17.6" height="1.0" fill="#000" opacity="0.13"/>
<line x1="87.6" y1="552.8" x2="1270" y2="552.8" stroke="#80838c" stroke-width="1.4"/>
<line x1="89.5" y1="553" x2="89.5" y2="559" stroke="#4f5563" stroke-width="1"/>
<line x1="120.5" y1="553" x2="120.5" y2="559" stroke="#4f5563" stroke-width="1"/>
<line x1="152.5" y1="553" x2="152.5" y2="559" stroke="#4f5563" stroke-width="1"/>
<line x1="183.5" y1="553" x2="183.5" y2="559" stroke="#4f5563" stroke-width="1"/>
<line x1="215.5" y1="553" x2="215.5" y2="559" stroke="#4f5563" stroke-width="1"/>
<line x1="247.5" y1="553" x2="247.5" y2="559" stroke="#4f5563" stroke-width="1"/>
<line x1="278.5" y1="553" x2="278.5" y2="559" stroke="#4f5563" stroke-width="1"/>
<line x1="310.5" y1="553" x2="310.5" y2="559" stroke="#4f5563" stroke-width="1"/>
<line x1="341.5" y1="553" x2="341.5" y2="559" stroke="#4f5563" stroke-width="1"/>
<line x1="373.5" y1="553" x2="373.5" y2="559" stroke="#4f5563" stroke-width="1"/>
<line x1="405.5" y1="553" x2="405.5" y2="559" stroke="#4f5563" stroke-width="1"/>
<line x1="436.5" y1="553" x2="436.5" y2="559" stroke="#4f5563" stroke-width="1"/>
<line x1="468.5" y1="553" x2="468.5" y2="559" stroke="#4f5563" stroke-width="1"/>
<line x1="499.5" y1="553" x2="499.5" y2="559" stroke="#4f5563" stroke-width="1"/>
<line x1="531.5" y1="553" x2="531.5" y2="559" stroke="#4f5563" stroke-width="1"/>
<line x1="563.5" y1="553" x2="563.5" y2="559" stroke="#4f5563" stroke-width="1"/>
<line x1="594.5" y1="553" x2="594.5" y2="559" stroke="#4f5563" stroke-width="1"/>
<line x1="626.5" y1="553" x2="626.5" y2="559" stroke="#4f5563" stroke-width="1"/>
<line x1="657.5" y1="553" x2="657.5" y2="559" stroke="#4f5563" stroke-width="1"/>
<line x1="689.5" y1="553" x2="689.5" y2="559" stroke="#4f5563" stroke-width="1"/>
<line x1="721.5" y1="553" x2="721.5" y2="559" stroke="#4f5563" stroke-width="1"/>
<line x1="752.5" y1="553" x2="752.5" y2="559" stroke="#4f5563" stroke-width="1"/>
<line x1="784.5" y1="553" x2="784.5" y2="559" stroke="#4f5563" stroke-width="1"/>
<line x1="815.5" y1="553" x2="815.5" y2="559" stroke="#4f5563" stroke-width="1"/>
<line x1="847.5" y1="553" x2="847.5" y2="559" stroke="#4f5563" stroke-width="1"/>
<line x1="878.5" y1="553" x2="878.5" y2="559" stroke="#4f5563" stroke-width="1"/>
<line x1="910.5" y1="553" x2="910.5" y2="559" stroke="#4f5563" stroke-width="1"/>
<line x1="942.5" y1="553" x2="942.5" y2="559" stroke="#4f5563" stroke-width="1"/>
<line x1="973.5" y1="553" x2="973.5" y2="559" stroke="#4f5563" stroke-width="1"/>
<line x1="1005.5" y1="553" x2="1005.5" y2="559" stroke="#4f5563" stroke-width="1"/>
<line x1="1036.5" y1="553" x2="1036.5" y2="559" stroke="#4f5563" stroke-width="1"/>
<line x1="1068.5" y1="553" x2="1068.5" y2="559" stroke="#4f5563" stroke-width="1"/>
<line x1="1100.5" y1="553" x2="1100.5" y2="559" stroke="#4f5563" stroke-width="1"/>
<line x1="1131.5" y1="553" x2="1131.5" y2="559" stroke="#4f5563" stroke-width="1"/>
<line x1="1163.5" y1="553" x2="1163.5" y2="559" stroke="#4f5563" stroke-width="1"/>
<line x1="1194.5" y1="553" x2="1194.5" y2="559" stroke="#4f5563" stroke-width="1"/>
<line x1="1226.5" y1="553" x2="1226.5" y2="559" stroke="#4f5563" stroke-width="1"/>
<line x1="1258.5" y1="553" x2="1258.5" y2="559" stroke="#4f5563" stroke-width="1"/>
<text transform="translate(99.90,567.4) rotate(-45)" x="0" y="0" font-size="17.2" text-anchor="end" dominant-baseline="hanging" fill="#0d0d1a" stroke="#0d0d1a" stroke-width="0.3">1989</text>
<text transform="translate(131.51,567.4) rotate(-45)" x="0" y="0" font-size="17.2" text-anchor="end" dominant-baseline="hanging" fill="#0d0d1a" stroke="#0d0d1a" stroke-width="0.3">1990</text>
<text transform="translate(163.12,567.4) rotate(-45)" x="0" y="0" font-size="17.2" text-anchor="end" dominant-baseline="hanging" fill="#0d0d1a" stroke="#0d0d1a" stroke-width="0.3">1991</text>
<text transform="translate(194.73,567.4) rotate(-45)" x="0" y="0" font-size="17.2" text-anchor="end" dominant-baseline="hanging" fill="#0d0d1a" stroke="#0d0d1a" stroke-width="0.3">1992</text>
<text transform="translate(226.34,567.4) rotate(-45)" x="0" y="0" font-size="17.2" text-anchor="end" dominant-baseline="hanging" fill="#0d0d1a" stroke="#0d0d1a" stroke-width="0.3">1993</text>
<text transform="translate(257.95,567.4) rotate(-45)" x="0" y="0" font-size="17.2" text-anchor="end" dominant-baseline="hanging" fill="#0d0d1a" stroke="#0d0d1a" stroke-width="0.3">1994</text>
<text transform="translate(289.56,567.4) rotate(-45)" x="0" y="0" font-size="17.2" text-anchor="end" dominant-baseline="hanging" fill="#0d0d1a" stroke="#0d0d1a" stroke-width="0.3">1995</text>
<text transform="translate(321.17,567.4) rotate(-45)" x="0" y="0" font-size="17.2" text-anchor="end" dominant-baseline="hanging" fill="#0d0d1a" stroke="#0d0d1a" stroke-width="0.3">1996</text>
<text transform="translate(352.78,567.4) rotate(-45)" x="0" y="0" font-size="17.2" text-anchor="end" dominant-baseline="hanging" fill="#0d0d1a" stroke="#0d0d1a" stroke-width="0.3">1997</text>
<text transform="translate(384.39,567.4) rotate(-45)" x="0" y="0" font-size="17.2" text-anchor="end" dominant-baseline="hanging" fill="#0d0d1a" stroke="#0d0d1a" stroke-width="0.3">1998</text>
<text transform="translate(416.00,567.4) rotate(-45)" x="0" y="0" font-size="17.2" text-anchor="end" dominant-baseline="hanging" fill="#0d0d1a" stroke="#0d0d1a" stroke-width="0.3">1999</text>
<text transform="translate(447.61,567.4) rotate(-45)" x="0" y="0" font-size="17.2" text-anchor="end" dominant-baseline="hanging" fill="#0d0d1a" stroke="#0d0d1a" stroke-width="0.3">2000</text>
<text transform="translate(479.22,567.4) rotate(-45)" x="0" y="0" font-size="17.2" text-anchor="end" dominant-baseline="hanging" fill="#0d0d1a" stroke="#0d0d1a" stroke-width="0.3">2001</text>
<text transform="translate(510.83,567.4) rotate(-45)" x="0" y="0" font-size="17.2" text-anchor="end" dominant-baseline="hanging" fill="#0d0d1a" stroke="#0d0d1a" stroke-width="0.3">2002</text>
<text transform="translate(542.44,567.4) rotate(-45)" x="0" y="0" font-size="17.2" text-anchor="end" dominant-baseline="hanging" fill="#0d0d1a" stroke="#0d0d1a" stroke-width="0.3">2003</text>
<text transform="translate(574.05,567.4) rotate(-45)" x="0" y="0" font-size="17.2" text-anchor="end" dominant-baseline="hanging" fill="#0d0d1a" stroke="#0d0d1a" stroke-width="0.3">2004</text>
<text transform="translate(605.66,567.4) rotate(-45)" x="0" y="0" font-size="17.2" text-anchor="end" dominant-baseline="hanging" fill="#0d0d1a" stroke="#0d0d1a" stroke-width="0.3">2005</text>
<text transform="translate(637.27,567.4) rotate(-45)" x="0" y="0" font-size="17.2" text-anchor="end" dominant-baseline="hanging" fill="#0d0d1a" stroke="#0d0d1a" stroke-width="0.3">2006</text>
<text transform="translate(668.88,567.4) rotate(-45)" x="0" y="0" font-size="17.2" text-anchor="end" dominant-baseline="hanging" fill="#0d0d1a" stroke="#0d0d1a" stroke-width="0.3">2007</text>
<text transform="translate(700.49,567.4) rotate(-45)" x="0" y="0" font-size="17.2" text-anchor="end" dominant-baseline="hanging" fill="#0d0d1a" stroke="#0d0d1a" stroke-width="0.3">2008</text>
<text transform="translate(732.10,567.4) rotate(-45)" x="0" y="0" font-size="17.2" text-anchor="end" dominant-baseline="hanging" fill="#0d0d1a" stroke="#0d0d1a" stroke-width="0.3">2009</text>
<text transform="translate(763.71,567.4) rotate(-45)" x="0" y="0" font-size="17.2" text-anchor="end" dominant-baseline="hanging" fill="#0d0d1a" stroke="#0d0d1a" stroke-width="0.3">2010</text>
<text transform="translate(795.32,567.4) rotate(-45)" x="0" y="0" font-size="17.2" text-anchor="end" dominant-baseline="hanging" fill="#0d0d1a" stroke="#0d0d1a" stroke-width="0.3">2011</text>
<text transform="translate(826.93,567.4) rotate(-45)" x="0" y="0" font-size="17.2" text-anchor="end" dominant-baseline="hanging" fill="#0d0d1a" stroke="#0d0d1a" stroke-width="0.3">2012</text>
<text transform="translate(858.54,567.4) rotate(-45)" x="0" y="0" font-size="17.2" text-anchor="end" dominant-baseline="hanging" fill="#0d0d1a" stroke="#0d0d1a" stroke-width="0.3">2013</text>
<text transform="translate(890.15,567.4) rotate(-45)" x="0" y="0" font-size="17.2" text-anchor="end" dominant-baseline="hanging" fill="#0d0d1a" stroke="#0d0d1a" stroke-width="0.3">2014</text>
<text transform="translate(921.76,567.4) rotate(-45)" x="0" y="0" font-size="17.2" text-anchor="end" dominant-baseline="hanging" fill="#0d0d1a" stroke="#0d0d1a" stroke-width="0.3">2015</text>
<text transform="translate(953.37,567.4) rotate(-45)" x="0" y="0" font-size="17.2" text-anchor="end" dominant-baseline="hanging" fill="#0d0d1a" stroke="#0d0d1a" stroke-width="0.3">2016</text>
<text transform="translate(984.98,567.4) rotate(-45)" x="0" y="0" font-size="17.2" text-anchor="end" dominant-baseline="hanging" fill="#0d0d1a" stroke="#0d0d1a" stroke-width="0.3">2017</text>
<text transform="translate(1016.59,567.4) rotate(-45)" x="0" y="0" font-size="17.2" text-anchor="end" dominant-baseline="hanging" fill="#0d0d1a" stroke="#0d0d1a" stroke-width="0.3">2018</text>
<text transform="translate(1048.20,567.4) rotate(-45)" x="0" y="0" font-size="17.2" text-anchor="end" dominant-baseline="hanging" fill="#0d0d1a" stroke="#0d0d1a" stroke-width="0.3">2019</text>
<text transform="translate(1079.81,567.4) rotate(-45)" x="0" y="0" font-size="17.2" text-anchor="end" dominant-baseline="hanging" fill="#0d0d1a" stroke="#0d0d1a" stroke-width="0.3">2020</text>
<text transform="translate(1111.42,567.4) rotate(-45)" x="0" y="0" font-size="17.2" text-anchor="end" dominant-baseline="hanging" fill="#0d0d1a" stroke="#0d0d1a" stroke-width="0.3">2021</text>
<text transform="translate(1143.03,567.4) rotate(-45)" x="0" y="0" font-size="17.2" text-anchor="end" dominant-baseline="hanging" fill="#0d0d1a" stroke="#0d0d1a" stroke-width="0.3">2022</text>
<text transform="translate(1174.64,567.4) rotate(-45)" x="0" y="0" font-size="17.2" text-anchor="end" dominant-baseline="hanging" fill="#0d0d1a" stroke="#0d0d1a" stroke-width="0.3">2023</text>
<text transform="translate(1206.25,567.4) rotate(-45)" x="0" y="0" font-size="17.2" text-anchor="end" dominant-baseline="hanging" fill="#0d0d1a" stroke="#0d0d1a" stroke-width="0.3">2024</text>
<text transform="translate(1237.86,567.4) rotate(-45)" x="0" y="0" font-size="17.2" text-anchor="end" dominant-baseline="hanging" fill="#0d0d1a" stroke="#0d0d1a" stroke-width="0.3">2025</text>
<rect x="119" y="78" width="145" height="147" fill="url(#lg)"/>
<rect x="159.7" y="96.8" width="9.8" height="9.8" fill="#587624" stroke="#9cc460" stroke-width="1.3"/>
<text x="173.2" y="107.1" font-size="14.6" fill="#0d0d1a" stroke="#0d0d1a" stroke-width="0.2" textLength="38.2" lengthAdjust="spacingAndGlyphs">Autre</text>
<rect x="159.7" y="147.0" width="9.8" height="9.8" fill="#2b5280" stroke="#5580b8" stroke-width="1.3"/>
<text x="173.2" y="157.3" font-size="14.6" fill="#0d0d1a" stroke="#0d0d1a" stroke-width="0.2" textLength="51.6" lengthAdjust="spacingAndGlyphs">Canyon</text>
<rect x="159.7" y="196.4" width="9.8" height="9.8" fill="#9a5a22" stroke="#f49c55" stroke-width="1.3"/>
<text x="173.2" y="206.7" font-size="14.6" fill="#0d0d1a" stroke="#0d0d1a" stroke-width="0.2" textLength="47.6" lengthAdjust="spacingAndGlyphs">Spéléo</text>
<text x="406.3" y="41.9" font-size="30.6" font-weight="bold" fill="#0a0a0a" textLength="463" lengthAdjust="spacingAndGlyphs">Les comptes rendus au fil des ans</text>
</svg></body></html>
